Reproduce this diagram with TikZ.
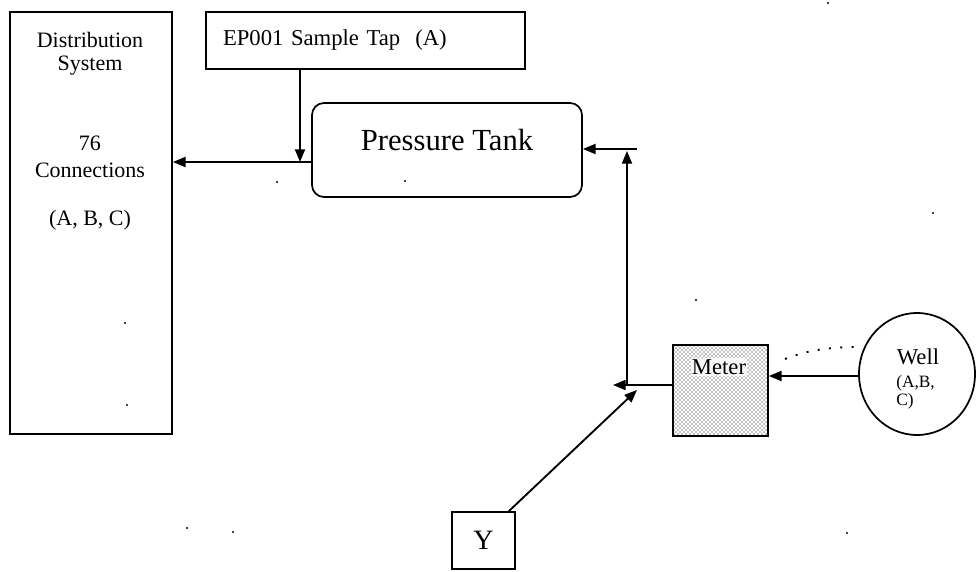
\documentclass[tikz,border=0pt]{standalone}
\usepackage{fontspec}
\setmainfont{Liberation Serif}
\usetikzlibrary{arrows.meta,shapes.geometric,patterns,calc}
\begin{document}
\begin{tikzpicture}[x=0.75pt,y=-0.75pt,
  box/.style={draw=black, line width=1.3pt, inner sep=0pt},
  txt/.style={inner sep=0pt, font=\fontsize{16.5}{18}\selectfont},
  arr/.style={line width=1.4pt, -{Triangle[length=9.5pt,width=7.5pt]}},
  speck/.style={fill=black}]
\useasboundingbox (0,0) rectangle (976,572);
\fill[white] (0,0) rectangle (976,572);

% nodes
\node[box, minimum width=121.5pt, minimum height=316.5pt] (dist) at (91,223) {};
\node[txt] (d1) at (90,40) {Distribution};
\node[txt] (d2) at (90,66) {System};
\node[txt] (d3) at (90,143) {76};
\node[txt] (d4) at (90,170) {Connections};
\node[txt] (d5) at (90,220) {(A, B, C)};

\node[box, inner xsep=12.75pt, text width=213.75pt, align=left, minimum height=42.75pt,
      font=\fontsize{17}{20}\selectfont] (ep) at (365.5,40.5) {EP001 Sample Tap\ \ (A)};

\node[box, rounded corners=9pt, minimum width=202.5pt, minimum height=70.5pt] (tank) at (447,150) {};
\node[txt, font=\fontsize{23}{26}\selectfont] (tanktxt) at (447,140) {Pressure Tank};

\node[box, pattern=crosshatch dots, pattern color=black, minimum width=71.25pt, minimum height=68.25pt] (meter) at (720.5,390.5) {};
\node[fill=white, fill opacity=0.75, text opacity=1, inner sep=1pt, font=\fontsize{17}{18}\selectfont] (metertxt) at (719,367) {Meter};

\node[box, ellipse, minimum width=87pt, minimum height=91.5pt] (well) at (917,374) {};
\node[txt, font=\fontsize{17}{18}\selectfont] (w1) at (918,357) {Well};
\node[txt, anchor=west, font=\fontsize{13}{14}\selectfont] (w2) at (896,383) {(A,B,};
\node[txt, anchor=west, font=\fontsize{13}{14}\selectfont] (w3) at (896,401) {C)};

\node[box, minimum width=47.25pt, minimum height=42.75pt, font=\fontsize{21}{22}\selectfont] (ybox) at (483.5,540.5) {Y};

% coordinates
\coordinate (T1) at (300,162);
\coordinate (J) at (627,385);
\coordinate (Jl) at (613,385);
\coordinate (Jt) at (627,151);
\coordinate (Hr) at (637,149);
\coordinate (Yt) at (637,390);
\coordinate (Wy) at (0,376);
\coordinate (Dstart) at (785,359);

% connectors
\draw[arr] (ep.south -| T1) -- (T1);
\draw[arr] (tank.west |- T1) -- (dist.east |- T1);
\draw[arr] (Hr) -- (tank.east |- Hr);
\draw[arr] (J) -- (Jt);
\draw[arr] (meter.west |- Jl) -- (Jl);
\draw[arr] ([xshift=-5.25pt]ybox.north east) -- (Yt);
\draw[arr] (well.west |- Wy) -- (meter.east |- Wy);
\draw[line width=1.4pt, dash pattern=on 1.5pt off 7pt] (Dstart) .. controls (808,350) and (830,347) .. (well.west |- 0,347);

% specks
\foreach \p in {(277,182),(125,323),(127,405),(187,528),(233,532),(933,213),(696,300),(847,533),(405,181),(828,3)}
  \fill \p circle (1.2);
\end{tikzpicture}
\end{document}
